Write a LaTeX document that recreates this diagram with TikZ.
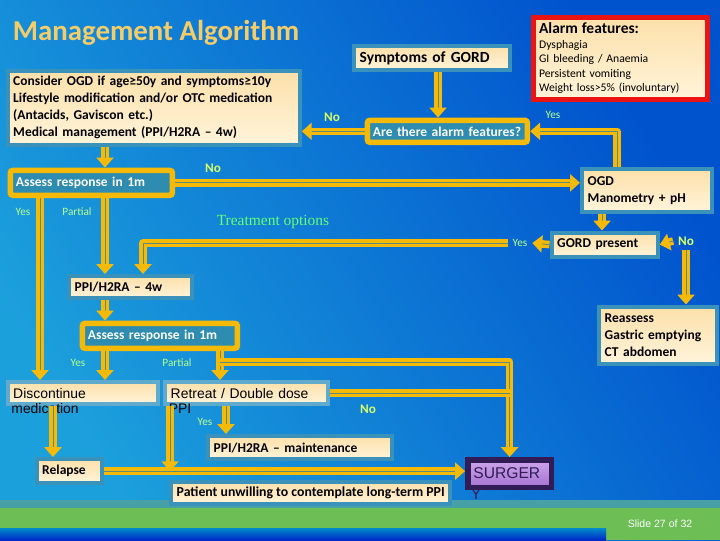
\documentclass[tikz,border=0pt]{standalone}
\usepackage{fontspec}
\setmainfont{Carlito}
\newfontfamily\arialf{Liberation Sans}
\newfontfamily\timesf{Liberation Serif}
\usetikzlibrary{positioning,arrows.meta}
\definecolor{gold}{RGB}{245,186,8}
\definecolor{pipemid}{RGB}{95,140,120}
\definecolor{frame}{RGB}{58,145,185}
\definecolor{askfill}{RGB}{45,140,175}
\definecolor{creamA}{RGB}{252,224,170}
\definecolor{creamB}{RGB}{255,244,218}
\definecolor{bgdark}{RGB}{0,82,205}
\definecolor{bglight}{RGB}{28,160,220}
\definecolor{lime}{RGB}{215,255,100}
\definecolor{ltgreen}{RGB}{185,255,140}
\definecolor{trgreen}{RGB}{100,255,110}
\definecolor{titlegold}{RGB}{244,204,104}
\definecolor{alarmred}{RGB}{235,20,20}
\definecolor{surgdark}{RGB}{50,28,85}
\definecolor{surgA}{RGB}{205,165,235}
\definecolor{surgB}{RGB}{165,115,210}
\definecolor{bandteal}{RGB}{70,160,165}
\definecolor{bandgreen}{RGB}{108,190,85}
\newcommand{\bodyfont}{\fontsize{9.6}{12}\selectfont\bfseries}
\tikzset{
  >={Triangle[width=12pt,length=7pt]},
  pipe/.style={draw=gold, line width=2.4pt, double=pipemid, double distance=0.6pt, line join=round},
}

\begin{document}
\begin{tikzpicture}[
  x=0.025cm, y=-0.025cm,
  card/.style={draw=frame, line width=3pt, top color=creamA, bottom color=creamB,
    anchor=north west, align=left, inner xsep=4pt, inner ysep=1pt, font=\bodyfont},
  ask/.style={draw=gold, line width=4pt, fill=askfill, rounded corners=2pt, text=white,
    anchor=north west, align=left, inner xsep=4pt, inner ysep=1pt, font=\bodyfont},
  plain/.style={card, draw={rgb,255:red,95;green,170;blue,205}, font=\arialf\fontsize{9.9}{12}\selectfont},
  lblno/.style={text=lime, font=\fontsize{9.4}{11}\selectfont\bfseries},
  lbl/.style={text=ltgreen, font=\fontsize{8}{10}\selectfont}
]

% slide background and footer bands
\shade[top color=bgdark, bottom color=bglight, shading angle=-60] (0,0) rectangle (720,540);
\fill[bandteal] (0,500) rectangle (720,508);
\fill[bandgreen] (0,508) rectangle (720,540);
\shade[top color={rgb,255:red,0;green,140;blue,200}, bottom color={rgb,255:red,0;green,40;blue,200}] (0,528) rectangle (606,540);

\node[anchor=base west, text=titlegold, font=\fontsize{20.5}{24}\selectfont\bfseries] (title) at (8,40) {Management Algorithm};

% boxes
\node[card, text width=7.02cm, minimum height=1.85cm] (consider) at (5.5,68.5)
  {Consider OGD if age≥50y and symptoms≥10y\\Lifestyle modification and/or OTC medication\\(Antacids, Gaviscon etc.)\\Medical management (PPI/H2RA -- 4w)};
\node[card, text width=3.62cm, minimum height=0.6cm, font=\fontsize{11}{13}\selectfont\bfseries] (gord) at (352,44) {Symptoms of GORD};
\node[card, draw=alarmred, line width=3.5pt, text width=4.07cm, minimum height=2.05cm, font=\fontsize{8.3}{10.3}\selectfont] (alarm) at (531,15)
  {{\fontsize{11}{13}\selectfont\bfseries Alarm features:}\\Dysphagia\\GI bleeding / Anaemia\\Persistent vomiting\\Weight loss>5\% (involuntary)};
\node[ask, text width=3.72cm, minimum height=0.55cm] (alarmq) at (364.5,117.5) {Are there alarm features?};
\node[ask, text width=3.77cm, minimum height=0.625cm] (assess1) at (7.5,167.5) {Assess response in 1m};
\node[card, text width=2.97cm, minimum height=1.075cm] (ogd) at (580,167) {OGD\\Manometry + pH};
\node[card, text width=2.37cm, minimum height=0.6cm] (gordp) at (549.5,230.5) {GORD present};
\node[card, text width=2.795cm, minimum height=0.55cm] (ppi4) at (67,274) {PPI/H2RA -- 4w};
\node[ask, text width=3.595cm, minimum height=0.625cm] (assess2) at (79.5,320.5) {Assess response in 1m};
\node[card, text width=2.67cm, minimum height=1.425cm] (reassess) at (597,304.5) {Reassess\\Gastric emptying\\CT abdomen};
\node[plain, text width=3.47cm, minimum height=0.55cm] (discont) at (5.5,380) {Discontinue};
\node[anchor=west, font=\arialf\fontsize{9.9}{12}\selectfont, inner xsep=4pt] (discont2) at (5.5,409) {medication};
\node[plain, text width=3.795cm, minimum height=0.55cm] (retreat) at (163,380) {Retreat / Double dose};
\node[anchor=west, font=\arialf\fontsize{9.9}{12}\selectfont, inner xsep=4pt] (retreat2) at (163,409) {PPI};
\node[card, text width=4.32cm, minimum height=0.575cm] (ppim) at (206,434) {PPI/H2RA -- maintenance};
\node[card, text width=1.345cm, minimum height=0.6cm] (relapse) at (34.5,457) {Relapse};
\node[card, minimum width=6.975cm, minimum height=0.55cm, font=\fontsize{9.8}{11}\selectfont\bfseries] (patient) at (169,480) {Patient unwilling to contemplate long-term PPI};
\node[draw=surgdark, line width=4pt, top color=surgA, bottom color=surgB, anchor=north west,
  text width=1.81cm, minimum height=0.6875cm, inner xsep=4pt, inner ysep=1pt, text=surgdark,
  font=\arialf\fontsize{11.1}{13}\selectfont] (surgery) at (465,457) {SURGER};
\node[anchor=west, text=surgdark, font=\arialf\fontsize{11.1}{13}\selectfont, inner xsep=4pt, inner ysep=0pt] (surgery2) at (465,494) {Y};

% labels
\node[lblno] (noA) at (332,117) {No};
\node[lbl] (yesA) at (553,115) {Yes};
\node[lblno] (noB) at (213,168) {No};
\node[lbl] (yesB) at (23,212) {Yes};
\node[lbl] (partB) at (77,212) {Partial};
\node[text=trgreen, font=\timesf\fontsize{11}{13}\selectfont] (treat) at (273,222) {Treatment options};
\node[lbl] (gyes) at (520,243) {Yes};
\node[lblno] (gno) at (686,241) {No};
\node[lbl] (yesC) at (78,363) {Yes};
\node[lbl] (partC) at (177,363) {Partial};
\node[lblno] (noC) at (368,409) {No};
\node[lbl] (yesD) at (205,422) {Yes};

% lanes for the vertical pipes
\coordinate (lx40) at (40,0);
\coordinate (lx53) at (53,0);
\coordinate (lx105) at (105,0);
\coordinate (lx143) at (143,0);
\coordinate (lx170) at (170,0);
\coordinate (lx220) at (220,0);
\coordinate (lx226) at (226,0);
\coordinate (lx438) at (438,0);
\coordinate (lx602) at (602,0);
\coordinate (lx617) at (617,0);
\coordinate (j1) at (220,362);

% pipes
\draw[pipe,->] (gord.south -| lx438) -- (alarmq.north -| lx438);
\draw[pipe,->] (alarmq.west) -- (alarmq.west -| consider.east);
\draw[pipe,->] (ogd.north -| lx617) |- (alarmq.east);
\draw[pipe,->] (consider.south -| lx105) -- (assess1.north -| lx105);
\draw[pipe,->] (assess1.east) -- (assess1.east -| ogd.west);
\draw[pipe,->] (assess1.south -| lx40) -- (discont.north -| lx40);
\draw[pipe,->] (assess1.south -| lx105) -- (ppi4.north -| lx105);
\draw[pipe,->] (ogd.south -| lx602) -- (gordp.north -| lx602);
\draw[pipe,->] (gordp.west) -- (gyes.east);
\draw[pipe,->] (gyes.west) -| (ppi4.north -| lx143);
\draw[pipe,->] (gno.west) -- (gordp.east);
\draw[pipe,->] (gno.south) -- (gno.south |- reassess.north);
\draw[pipe,->] (ppi4.south -| lx105) -- (assess2.north -| lx105);
\draw[pipe,->] (assess2.south -| lx105) -- (discont.north -| lx105);
\draw[pipe,->] (assess2.south -| lx220) -- (retreat.north -| lx220);
\draw[pipe,->] (j1) -| (surgery.north);
\draw[pipe] (retreat.east) -- (retreat.east -| surgery.north);
\draw[pipe,->] (retreat.south -| lx226) -- (ppim.north -| lx226);
\draw[pipe,->] (retreat.south -| lx170) -- (relapse.east -| lx170);
\draw[pipe,->] (discont.south -| lx53) -- (relapse.north -| lx53);
\draw[pipe,->] (relapse.east) -- (relapse.east -| surgery.west);

\node[text=white, font=\arialf\fontsize{7.5}{9}\selectfont] (slideno) at (660,524) {Slide 27 of 32};

\end{tikzpicture}
\end{document}
